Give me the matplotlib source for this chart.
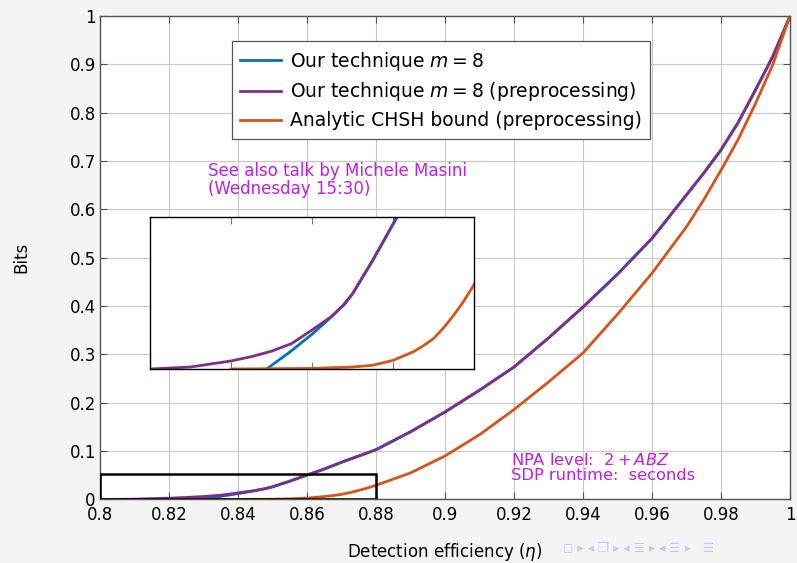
import matplotlib
matplotlib.use("Agg")
import matplotlib.pyplot as plt
from matplotlib.patches import Rectangle

# Values (bits vs detection efficiency)
eta_pre = [0.80, 0.81, 0.82, 0.825, 0.83, 0.835, 0.84, 0.845, 0.848, 0.85, 0.855,
           0.86, 0.865, 0.87, 0.875, 0.88, 0.89, 0.90, 0.91, 0.92, 0.93, 0.94,
           0.95, 0.96, 0.97, 0.975, 0.98, 0.985, 0.99, 0.995, 1.0]
bits_pre = [0.0, 0.0007, 0.0028, 0.0043, 0.0062, 0.0089, 0.0136, 0.0185, 0.0225,
            0.0262, 0.0379, 0.0505, 0.063, 0.077, 0.090, 0.103, 0.140, 0.181, 0.226,
            0.274, 0.334, 0.398, 0.466, 0.540, 0.630, 0.675, 0.723, 0.780, 0.847,
            0.916, 1.0]

eta_m8 = [0.8288, 0.8346, 0.84, 0.8444, 0.8477, 0.85, 0.855, 0.86, 0.865, 0.87,
          0.875, 0.88, 0.89, 0.90, 0.91, 0.92, 0.93, 0.94, 0.95, 0.96, 0.97, 0.975,
          0.98, 0.985, 0.99, 0.995, 1.0]
bits_m8 = [0.0, 0.0060, 0.0121, 0.0177, 0.0223, 0.0262, 0.0379, 0.0505, 0.063, 0.077,
           0.090, 0.103, 0.140, 0.181, 0.226, 0.274, 0.334, 0.398, 0.466, 0.540,
           0.630, 0.675, 0.723, 0.780, 0.847, 0.916, 1.0]

eta_chsh = [0.82, 0.84, 0.85, 0.855, 0.86, 0.865, 0.8675, 0.87, 0.8724, 0.875,
            0.8774, 0.88, 0.89, 0.90, 0.91, 0.92, 0.93, 0.94, 0.95, 0.96, 0.97,
            0.975, 0.98, 0.985, 0.99, 0.995, 1.0]
bits_chsh = [0.0, 0.0002, 0.0007, 0.0013, 0.0030, 0.0060, 0.0081, 0.0106, 0.0142,
             0.0188, 0.0235, 0.0294, 0.055, 0.090, 0.134, 0.186, 0.243, 0.303, 0.383,
             0.468, 0.564, 0.620, 0.681, 0.745, 0.819, 0.899, 1.0]

xticks = [0.8, 0.82, 0.84, 0.86, 0.88, 0.9, 0.92, 0.94, 0.96, 0.98, 1.0]
xticklabels = ["0.8", "0.82", "0.84", "0.86", "0.88", "0.9", "0.92", "0.94", "0.96", "0.98", "1"]
yticks = [0, 0.1, 0.2, 0.3, 0.4, 0.5, 0.6, 0.7, 0.8, 0.9, 1.0]
yticklabels = ["0", "0.1", "0.2", "0.3", "0.4", "0.5", "0.6", "0.7", "0.8", "0.9", "1"]

zoom_box = (0.8, 0.88, 0.0, 0.053)

BLUE, PURPLE, ORANGE = "#0072BD", "#7E2F8E", "#D95319"
NOTE = "#BF1FE6"
BG = "#f4f4f4"

plt.rcParams["font.family"] = ["DejaVu Sans"]
plt.rcParams["mathtext.fontset"] = "dejavusans"

fig = plt.figure(figsize=(7.97, 5.63), dpi=100, facecolor=BG)
ax = fig.add_axes([0.1255, 0.1128, 0.8657, 0.8588])
ax.set_facecolor("white")

ax.plot(eta_m8, bits_m8, color=BLUE, lw=2, label="Our technique $m = 8$")
ax.plot(eta_pre, bits_pre, color=PURPLE, lw=2, label="Our technique $m = 8$ (preprocessing)")
ax.plot(eta_chsh, bits_chsh, color=ORANGE, lw=2, label="Analytic CHSH bound (preprocessing)")

ax.add_patch(Rectangle((zoom_box[0], zoom_box[2]), zoom_box[1] - zoom_box[0],
                       zoom_box[3] - zoom_box[2], fill=False, ec="black", lw=1.8, zorder=5))

ax.set_xlim(0.8, 1.0)
ax.set_ylim(0, 1.0)
ax.set_xticks(xticks)
ax.set_xticklabels(xticklabels)
ax.set_yticks(yticks)
ax.set_yticklabels(yticklabels)
ax.grid(True, color="#c8c8c8", lw=0.8)
ax.set_axisbelow(True)
ax.tick_params(direction="in", top=True, right=True, length=5, color="#555555",
               labelsize=12, pad=3)
ax.tick_params(axis="x", pad=5)
for s in ax.spines.values():
    s.set_color("#555555")
    s.set_linewidth(1.0)

ax.set_xlabel(r"Detection efficiency ($\eta$)", fontsize=12, labelpad=12)
ax.set_ylabel("Bits", fontsize=12, labelpad=28)

leg = ax.legend(loc="upper left", bbox_to_anchor=(0.191, 0.948), fontsize=13.5,
                frameon=True, fancybox=False, edgecolor="#555555", framealpha=1,
                handlelength=2.2, handletextpad=0.45, borderpad=0.45, labelspacing=0.42,
                borderaxespad=0)
leg.get_frame().set_linewidth(0.9)

fig.text(208 / 797, 1 - 162 / 563, "See also talk by Michele Masini\n(Wednesday 15:30)",
         color=NOTE, fontsize=12, va="top", ha="left", linespacing=1.0)
fig.text(511 / 797, 1 - 452 / 563, "NPA level:  $2 + ABZ$\nSDP runtime:  seconds",
         color=NOTE, fontsize=11.7, va="top", ha="left", linespacing=1.0)

# zoomed inset
ins = fig.add_axes([150 / 797, 1 - 369 / 563, 324 / 797, 152 / 563])
ins.plot(eta_m8, bits_m8, color=BLUE, lw=2)
ins.plot(eta_pre, bits_pre, color=PURPLE, lw=2)
ins.plot(eta_chsh, bits_chsh, color=ORANGE, lw=2)
ins.set_xlim(zoom_box[0], zoom_box[1])
ins.set_ylim(zoom_box[2], zoom_box[3])
ins.set_xticks([0.82, 0.84, 0.86])
ins.set_yticks([])
ins.tick_params(direction="in", top=True, length=5, color="#777777",
                labelbottom=False)
for s in ins.spines.values():
    s.set_color("black")
    s.set_linewidth(1.0)

# beamer navigation symbols
fig.text(563 / 797, 1 - 549 / 563,
         "\u25fb \u25b8 \u25c2 \u2750 \u25b8 \u25c2 \u2630 \u25b8 \u25c2 \u2630 \u25b8   \u2630",
         color="#c3cde8", fontsize=9, va="center", ha="left")

fig.savefig("out.png", dpi=100, facecolor=BG)
